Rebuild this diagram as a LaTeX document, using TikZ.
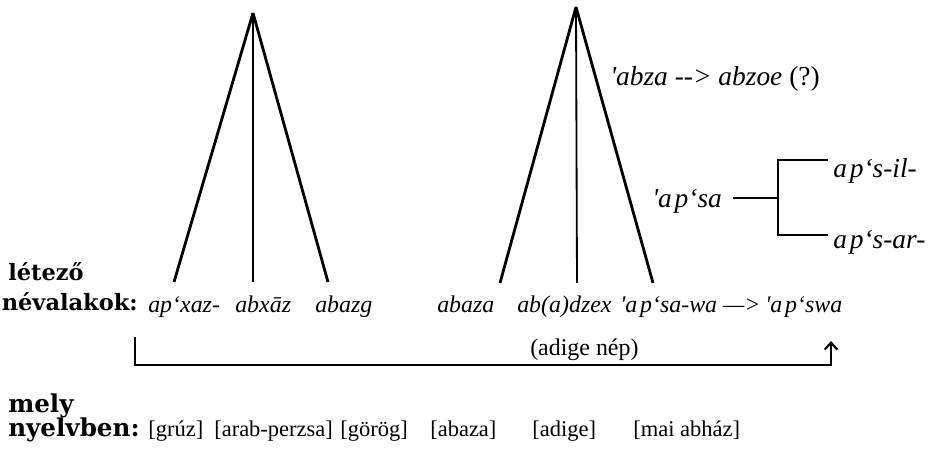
\documentclass[tikz,border=0pt]{standalone}
\usepackage{fontspec}
\setmainfont{Liberation Serif}[Ligatures=TeXOff]
\newfontfamily\headfont{DejaVu Serif}[Ligatures=TeXOff]
\usetikzlibrary{arrows.meta}

\begin{document}
\begin{tikzpicture}[
  x=0.025cm, y=-0.025cm,
  word/.style={inner sep=0pt, anchor=base west, font=\fontsize{17}{20}\selectfont\itshape},
  note/.style={inner sep=0pt, anchor=base west, font=\fontsize{19.5}{23}\selectfont\itshape},
  plain/.style={inner sep=0pt, anchor=base west, font=\fontsize{16}{19}\selectfont},
  head/.style={inner sep=0pt, anchor=base west, font=\headfont\bfseries\fontsize{16}{19}\selectfont},
  branch/.style={line width=2pt},
  stem/.style={line width=1.3pt},
  fork/.style={line width=0.9pt},
  link/.style={line width=1.5pt, -{Straight Barb[length=5pt, width=9pt]}},
]
\useasboundingbox (0,0) rectangle (930,458);

% bal fa
\coordinate (apexL) at (253,13);
\foreach \x in {174,328}
  \draw[branch] (apexL) -- (\x,282);
\draw[stem] (apexL) -- (253,282);

% jobb fa
\coordinate (apexR) at (576,7);
\foreach \x in {500,653}
  \draw[branch] (apexR) -- (\x,283);
\draw[stem] (apexR) -- (577,283);

% megjegyzések a jobb fánál
\node[note] (abza) at (610,86) {'abza --> abzoe \textup{(?)}};
\node[note] (apsa) at (652,208) {'a\kern2pt p‘sa};
\node[note] (apsil) at (833,178) {a\kern2pt p‘s-il-};
\node[note] (apsar) at (833,249) {a\kern2pt p‘s-ar-};
\coordinate (split) at (778,198);
\coordinate (forkup) at (828,160);
\coordinate (forkdown) at (828,235);
\draw[fork, shorten >=8pt] (split) -- (split -| apsa.east);
\draw[fork] (forkup) -| (split) |- (forkdown);

% létező névalakok
\node[head] (letezo) at (8,281) {létező};
\node[head, anchor=base east] (nevalakok) at (138,311) {névalakok:};
\node[word] (apxaz) at (148,313) {ap‘xaz-};
\node[word] (abxaz) at (235,313) {abxāz};
\node[word] (abazg) at (315,313) {abazg};
\node[word] (abaza) at (437,313) {abaza};
\node[word] (abadzex) at (517,313) {ab(a)dzex};
\node[word] (apsawa) at (620,313) {'a\kern2pt p‘sa-wa —>};
\node[word] (apswa) at (765,313) {'a\kern2pt p‘swa};
\node[plain, font=\fontsize{17}{20}\selectfont] (adige) at (530,356) {(adige nép)};

% összekötő nyíl
\coordinate (from) at (135,337);
\coordinate (to) at (831,341);
\draw[link] (from) -- ++(0,28) -| (to);

% mely nyelvben
\node[head, font=\headfont\bfseries\fontsize{17.5}{21}\selectfont] (mely) at (8,413) {mely};
\node[head, font=\headfont\bfseries\fontsize{17.5}{21}\selectfont] (nyelvben) at (8,437) {nyelvben:};
\node[plain] (gruz) at (148,437) {[grúz]};
\node[plain] (arab) at (214,437) {[arab-perzsa]};
\node[plain] (gorog) at (340,437) {[görög]};
\node[plain] (abazanyelv) at (430,437) {[abaza]};
\node[plain] (adigenyelv) at (532,437) {[adige]};
\node[plain] (abhaz) at (633,437) {[mai abház]};

\end{tikzpicture}
\end{document}
